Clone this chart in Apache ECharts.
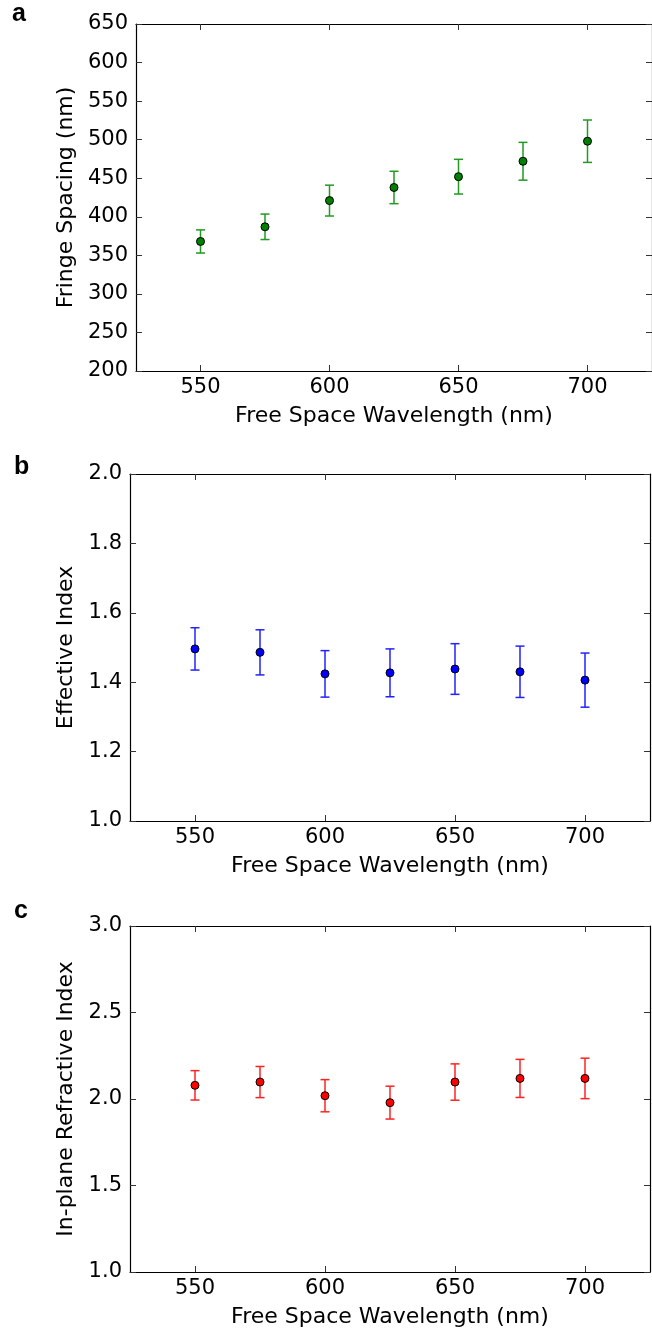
<!DOCTYPE html>
<html>
<head>
<meta charset="utf-8">
<title>Fringe spacing / effective index / refractive index</title>
<script src="https://cdn.jsdelivr.net/npm/echarts@6/dist/echarts.min.js"></script>
<style>
	html, body { margin: 0; padding: 0; background: #fff; }
	#chart { width: 652px; height: 1331px; }
</style>
</head>
<body>
<div id="chart"></div>
<script>
// wavelengths (nm)
var wavelength = [550, 575, 600, 625, 650, 675, 700];
var xTicks = [550, 600, 650, 700];

// panel a - fringe spacing (nm)
var fringeSpacing = [368, 387, 421, 438, 452, 472, 498];
var fringeErr = [15, 16.5, 20, 21, 22.5, 24.5, 27.5];

// panel b - effective index
var effIndex = [1.496, 1.486, 1.424, 1.427, 1.438, 1.430, 1.406];
var effErr = [0.061, 0.065, 0.067, 0.069, 0.073, 0.074, 0.078];

// panel c - in-plane refractive index
var refIndex = [2.079, 2.098, 2.019, 1.979, 2.098, 2.119, 2.119];
var refErr = [0.085, 0.09, 0.093, 0.095, 0.105, 0.11, 0.117];

var FONT = 'DejaVu Sans';

function toRows(ys, errs) {
	var rows = [];
	for (var i = 0; i < wavelength.length; i++) {
		rows.push([wavelength[i], ys[i], errs[i]]);
	}
	return rows;
}

// vertical error bar with caps
function errorBar(color) {
	return function (params, api) {
		var x = api.value(0), y = api.value(1), e = api.value(2);
		var top = api.coord([x, y + e]);
		var bot = api.coord([x, y - e]);
		var w = 4.5;
		var st = { stroke: color, lineWidth: 1.5 };
		return {
			type: 'group',
			children: [
				{ type: 'line', shape: { x1: top[0], y1: top[1], x2: bot[0], y2: bot[1] }, style: st },
				{ type: 'line', shape: { x1: top[0] - w, y1: top[1], x2: top[0] + w, y2: top[1] }, style: st },
				{ type: 'line', shape: { x1: bot[0] - w, y1: bot[1], x2: bot[0] + w, y2: bot[1] }, style: st }
			]
		};
	};
}

var axisLine = { lineStyle: { color: '#000', width: 1.2 } };
var tick = { inside: true, length: 6, lineStyle: { color: '#333', width: 1 } };

function xAxes(gi) {
	return [{
		gridIndex: gi, type: 'value', min: 525, max: 725, position: 'bottom',
		name: 'Free Space Wavelength (nm)', nameLocation: 'middle', nameGap: 34,
		nameTextStyle: { fontFamily: FONT, fontSize: 22, color: '#000' },
		axisLine: axisLine,
		axisTick: Object.assign({ customValues: xTicks }, tick),
		axisLabel: { customValues: xTicks, margin: 6, fontFamily: FONT, fontSize: 21, color: '#000' },
		splitLine: { show: false }
	}, {
		gridIndex: gi, type: 'value', min: 525, max: 725, position: 'top',
		axisLine: axisLine,
		axisTick: Object.assign({ customValues: xTicks }, tick),
		axisLabel: { show: false },
		splitLine: { show: false }
	}];
}

function yAxes(gi, min, max, step, name, gap, digits) {
	return [{
		gridIndex: gi, type: 'value', min: min, max: max, interval: step, position: 'left',
		name: name, nameLocation: 'middle', nameGap: gap,
		nameTextStyle: { fontFamily: FONT, fontSize: 22, color: '#000' },
		axisLine: axisLine,
		axisTick: tick,
		axisLabel: {
			margin: 8, fontFamily: FONT, fontSize: 21, color: '#000',
			formatter: function (v) { return v.toFixed(digits); }
		},
		splitLine: { show: false }
	}, {
		gridIndex: gi, type: 'value', min: min, max: max, interval: step, position: 'right',
		axisLine: axisLine,
		axisTick: tick,
		axisLabel: { show: false },
		splitLine: { show: false }
	}];
}

function panelSeries(gi, ys, errs, barColor, dotColor) {
	var rows = toRows(ys, errs);
	return [{
		type: 'custom',
		xAxisIndex: gi * 2, yAxisIndex: gi * 2,
		renderItem: errorBar(barColor),
		encode: { x: 0, y: 1 },
		data: rows,
		z: 2
	}, {
		type: 'scatter',
		xAxisIndex: gi * 2, yAxisIndex: gi * 2,
		symbolSize: 8,
		itemStyle: { color: dotColor, borderColor: '#000', borderWidth: 1, opacity: 1 },
		data: rows,
		z: 3
	}];
}

var myChart = echarts.init(document.getElementById('chart'));

var option = {
	animation: false,
	backgroundColor: '#fff',
	grid: [
		{ left: 136, top: 24, width: 521, height: 347 },
		{ left: 130, top: 474, width: 520, height: 347 },
		{ left: 130, top: 926, width: 520, height: 346 }
	],
	xAxis: [].concat(xAxes(0), xAxes(1), xAxes(2)),
	yAxis: [].concat(
		yAxes(0, 200, 650, 50, 'Fringe Spacing (nm)', 54, 0),
		yAxes(1, 1.0, 2.0, 0.2, 'Effective Index', 48, 1),
		yAxes(2, 1.0, 3.0, 0.5, 'In-plane Refractive Index', 48, 1)
	),
	series: [].concat(
		panelSeries(0, fringeSpacing, fringeErr, '#229922', '#008000'),
		panelSeries(1, effIndex, effErr, '#2222ff', '#0000ff'),
		panelSeries(2, refIndex, refErr, '#ff2222', '#ff0000')
	),
	// panel letters
	graphic: [
		{ type: 'text', left: 12, top: 2, style: { text: 'a', font: 'bold 25px "Liberation Sans"', fill: '#000' } },
		{ type: 'text', left: 14, top: 455, style: { text: 'b', font: 'bold 25px "Liberation Sans"', fill: '#000' } },
		{ type: 'text', left: 14, top: 899, style: { text: 'c', font: 'bold 25px "Liberation Sans"', fill: '#000' } }
	]
};

myChart.setOption(option);
</script>
</body>
</html>
